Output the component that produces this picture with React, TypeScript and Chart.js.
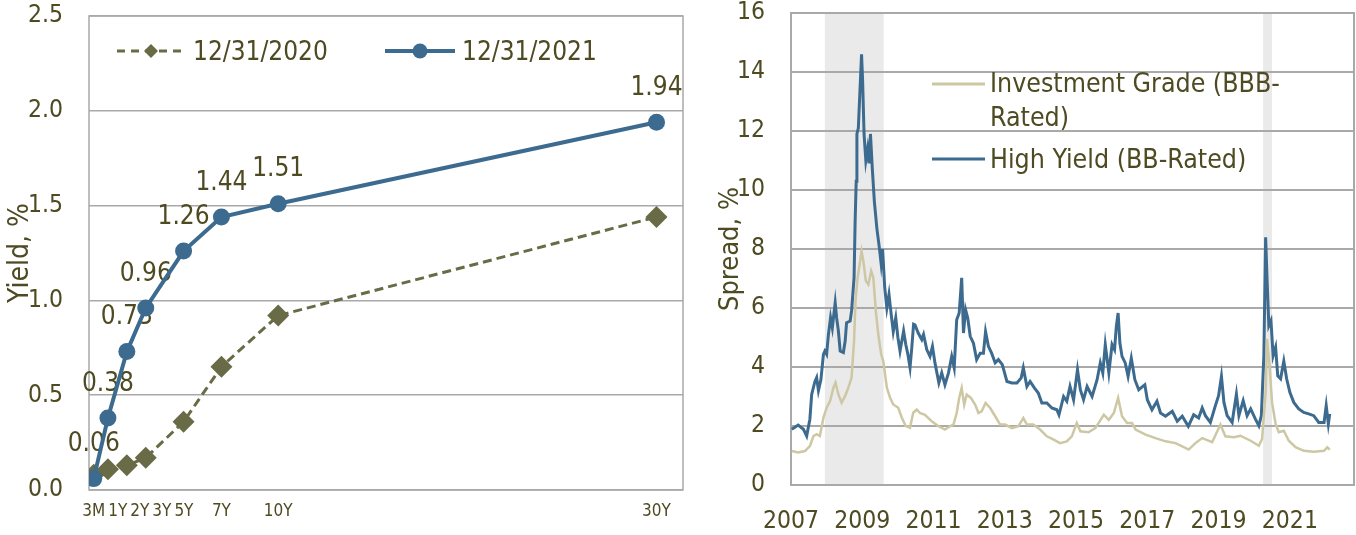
import React, { useEffect, useRef } from "react";
import { Chart, registerables } from "chart.js";

Chart.register(...registerables);

// ---------- Left chart data: Treasury yield curve ----------
const maturities = [0.25, 1, 2, 3, 5, 7, 10, 30];
const maturityLabels = ["3M", "1Y", "2Y", "3Y", "5Y", "7Y", "10Y", "30Y"];
const yield2020 = [0.08, 0.11, 0.13, 0.17, 0.36, 0.65, 0.92, 1.44];
const yield2021 = [0.06, 0.38, 0.73, 0.96, 1.26, 1.44, 1.51, 1.94];
const yieldTicks = [0, 0.5, 1.0, 1.5, 2.0, 2.5];

// ---------- Right chart data: corporate spreads ----------
const yearTicks = [2007, 2009, 2011, 2013, 2015, 2017, 2019, 2021];
const spreadTicks = [0, 2, 4, 6, 8, 10, 12, 14, 16];
const recessionStart = [2007.95, 2020.25];
const recessionEnd = [2009.6, 2020.5];

const hyYears = [
  2007.02, 2007.1, 2007.2, 2007.35, 2007.44, 2007.53, 2007.58, 2007.67, 2007.72, 2007.77,
  2007.84, 2007.91, 2007.95, 2008.0, 2008.05, 2008.11, 2008.16, 2008.24, 2008.28, 2008.33,
  2008.38, 2008.47, 2008.52, 2008.56, 2008.66, 2008.7, 2008.77, 2008.8, 2008.83, 2008.85,
  2008.89, 2008.94, 2008.98, 2009.01, 2009.05, 2009.1, 2009.15, 2009.19, 2009.23, 2009.28,
  2009.34, 2009.41, 2009.48, 2009.53, 2009.57, 2009.63, 2009.69, 2009.75, 2009.81, 2009.87,
  2009.94, 2010.0, 2010.06, 2010.16, 2010.22, 2010.28, 2010.34, 2010.39, 2010.44, 2010.48,
  2010.57, 2010.67, 2010.72, 2010.81, 2010.9, 2010.97, 2011.04, 2011.15, 2011.23, 2011.32,
  2011.42, 2011.51, 2011.58, 2011.65, 2011.72, 2011.79, 2011.84, 2011.9, 2011.96, 2012.03,
  2012.12, 2012.21, 2012.31, 2012.4, 2012.46, 2012.54, 2012.63, 2012.73, 2012.82, 2012.93,
  2013.06, 2013.2, 2013.34, 2013.46, 2013.52, 2013.62, 2013.71, 2013.83, 2013.94, 2014.04,
  2014.18, 2014.32, 2014.46, 2014.52, 2014.65, 2014.74, 2014.83, 2014.93, 2015.04, 2015.12,
  2015.21, 2015.31, 2015.45, 2015.59, 2015.68, 2015.75, 2015.82, 2015.92, 2016.01, 2016.08,
  2016.13, 2016.18, 2016.23, 2016.29, 2016.38, 2016.46, 2016.55, 2016.65, 2016.76, 2016.93,
  2017.0, 2017.13, 2017.27, 2017.37, 2017.51, 2017.7, 2017.84, 2017.98, 2018.15, 2018.3,
  2018.44, 2018.54, 2018.63, 2018.77, 2018.91, 2019.0, 2019.08, 2019.15, 2019.24, 2019.38,
  2019.5, 2019.57, 2019.69, 2019.8, 2019.9, 2020.03, 2020.13, 2020.2, 2020.27, 2020.32,
  2020.36, 2020.41, 2020.47, 2020.53, 2020.6, 2020.66, 2020.74, 2020.83, 2020.91, 2021.0,
  2021.11, 2021.25, 2021.39, 2021.53, 2021.67, 2021.81, 2021.96, 2022.02, 2022.08, 2022.12,
];
const hySpread = [
  1.89, 1.95, 2.03, 1.89, 1.66, 2.23, 3.07, 3.5, 3.64, 3.2,
  3.58, 4.43, 4.54, 4.43, 5.1, 5.67, 5.33, 6.18, 5.67, 5.22,
  4.54, 4.49, 4.88, 5.5, 5.56, 5.9, 7.03, 8.95, 10.3, 11.9,
  12.1, 13.5, 14.6, 13.7, 11.9, 11.0, 11.4, 10.9, 11.9, 10.76,
  9.6, 8.7, 8.04, 7.5, 8.0, 6.7, 6.0, 6.46, 5.8, 5.2,
  5.67, 5.0, 4.54, 5.22, 4.77, 4.43, 3.98, 4.66, 5.45, 5.43,
  5.15, 4.93, 5.1, 4.59, 4.36, 4.7, 4.14, 3.46, 3.8, 3.4,
  3.8, 4.36, 3.97, 5.6, 5.83, 7.02, 5.15, 5.94, 5.66, 5.04,
  4.81, 4.25, 4.47, 4.47, 5.2, 4.7, 4.47, 4.14, 4.25, 4.08,
  3.51, 3.46, 3.46, 3.63, 3.97, 3.34, 3.51, 3.29, 3.12, 2.78,
  2.78, 2.61, 2.55, 2.38, 3.0, 2.84, 3.34, 2.89, 3.91, 3.23,
  2.89, 3.34, 3.0, 3.57, 4.14, 3.8, 4.76, 3.8, 4.76, 4.59,
  5.38, 5.83, 4.81, 4.36, 4.14, 3.68, 4.3, 3.57, 3.23, 3.4,
  2.89, 2.55, 2.84, 2.44, 2.33, 2.5, 2.16, 2.33, 1.99, 2.38,
  2.27, 2.61, 2.35, 2.12, 2.69, 3.03, 3.68, 2.8, 2.35, 2.12,
  3.08, 2.35, 2.86, 2.35, 2.58, 2.24, 2.01, 2.35, 4.38, 8.4,
  6.98, 5.4, 5.57, 4.38, 4.67, 3.7, 3.6, 4.2, 3.6, 3.14,
  2.8, 2.58, 2.46, 2.41, 2.35, 2.12, 2.12, 2.69, 2.07, 2.41,
];

const igYears = [
  2007.02, 2007.2, 2007.39, 2007.53, 2007.63, 2007.72, 2007.81, 2007.91, 2008.0, 2008.1,
  2008.19, 2008.25, 2008.33, 2008.42, 2008.52, 2008.61, 2008.7, 2008.77, 2008.81, 2008.87,
  2008.94, 2008.98, 2009.03, 2009.1, 2009.17, 2009.25, 2009.31, 2009.38, 2009.45, 2009.53,
  2009.59, 2009.69, 2009.78, 2009.87, 2010.01, 2010.11, 2010.22, 2010.34, 2010.43, 2010.53,
  2010.62, 2010.76, 2010.95, 2011.14, 2011.32, 2011.46, 2011.56, 2011.65, 2011.72, 2011.79,
  2011.86, 2011.93, 2012.05, 2012.17, 2012.26, 2012.35, 2012.46, 2012.59, 2012.73, 2012.87,
  2013.01, 2013.2, 2013.38, 2013.52, 2013.62, 2013.8, 2013.99, 2014.18, 2014.37, 2014.55,
  2014.74, 2014.88, 2015.02, 2015.12, 2015.35, 2015.54, 2015.78, 2015.92, 2016.06, 2016.18,
  2016.29, 2016.43, 2016.57, 2016.67, 2016.95, 2017.23, 2017.51, 2017.79, 2017.98, 2018.16,
  2018.35, 2018.54, 2018.82, 2019.05, 2019.19, 2019.43, 2019.61, 2019.9, 2020.13, 2020.22,
  2020.32, 2020.36, 2020.43, 2020.5, 2020.6, 2020.69, 2020.83, 2020.97, 2021.16, 2021.39,
  2021.67, 2021.96, 2022.05, 2022.12,
];
const igSpread = [
  1.15, 1.1, 1.15, 1.32, 1.66, 1.72, 1.66, 2.28, 2.62, 2.85,
  3.3, 3.47, 3.07, 2.79, 3.02, 3.3, 3.64, 4.88, 6.24, 7.03,
  7.59, 7.93, 7.59, 6.92, 6.8, 7.25, 7.03, 5.9, 5.1, 4.43,
  4.2, 3.3, 2.96, 2.73, 2.62, 2.28, 2.0, 1.94, 2.45, 2.56,
  2.44, 2.38, 2.16, 1.99, 1.88, 1.99, 2.05, 2.44, 2.95, 3.29,
  2.72, 3.06, 2.95, 2.72, 2.44, 2.5, 2.78, 2.61, 2.33, 2.05,
  2.05, 1.93, 1.99, 2.27, 2.05, 2.05, 1.88, 1.65, 1.54, 1.42,
  1.48, 1.65, 2.1, 1.82, 1.79, 1.93, 2.38, 2.21, 2.44, 2.95,
  2.33, 2.1, 2.1, 1.88, 1.71, 1.59, 1.48, 1.42, 1.31, 1.2,
  1.42, 1.59, 1.45, 2.05, 1.65, 1.62, 1.67, 1.5, 1.33, 1.56,
  3.14, 4.95, 4.05, 2.8, 2.07, 1.79, 1.84, 1.5, 1.28, 1.16,
  1.13, 1.16, 1.28, 1.2,
];

// ---------- Styles ----------
const FONT = "'DejaVu Sans Condensed', 'Liberation Sans', sans-serif";
const TEXT = "#4E4A22";
const GRID = "#A9A9A9";
const BLUE = "#3D6B8F";
const OLIVE = "#686B45";
const TAN = "#CDC7A3";
const SHADE = "#EAEAEA";

const framePlugin = (lw: number) => ({
  id: "frame",
  beforeDatasetsDraw(chart: any) {
    const { ctx, chartArea: a } = chart;
    ctx.save();
    ctx.strokeStyle = GRID;
    ctx.lineWidth = lw;
    ctx.strokeRect(a.left, a.top, a.right - a.left, a.bottom - a.top);
    ctx.restore();
  },
});

const valueLabelPlugin = {
  id: "valueLabels",
  beforeDatasetsDraw(chart: any) {
    const meta = chart.getDatasetMeta(0);
    const ctx = chart.ctx;
    ctx.save();
    ctx.font = `26px ${FONT}`;
    ctx.fillStyle = TEXT;
    ctx.textAlign = "center";
    ctx.textBaseline = "middle";
    meta.data.forEach((pt: any, i: number) => {
      ctx.fillText(yield2021[i].toFixed(2), pt.x, pt.y - 34);
    });
    ctx.restore();
  },
};

// maturity labels placed at their scale positions, nudged right where they would overlap
const maturityLabelPlugin = {
  id: "maturityLabels",
  afterDraw(chart: any) {
    const { ctx, chartArea: a, scales } = chart;
    ctx.save();
    ctx.font = `17px ${FONT}`;
    ctx.fillStyle = TEXT;
    ctx.textAlign = "left";
    ctx.textBaseline = "middle";
    let prevEnd = -Infinity;
    maturities.forEach((m, i) => {
      const w = ctx.measureText(maturityLabels[i]).width;
      const cx = scales.x.getPixelForValue(m);
      const start = Math.max(cx - w / 2, prevEnd + 3);
      ctx.fillText(maturityLabels[i], start, a.bottom + 22);
      prevEnd = start + w;
    });
    ctx.restore();
  },
};

const recessionPlugin = {
  id: "recessions",
  beforeDraw(chart: any) {
    const { ctx, chartArea: a, scales } = chart;
    ctx.save();
    ctx.fillStyle = SHADE;
    recessionStart.forEach((s, i) => {
      const x0 = scales.x.getPixelForValue(s);
      const x1 = scales.x.getPixelForValue(recessionEnd[i]);
      ctx.fillRect(x0, a.top, x1 - x0, a.bottom - a.top);
    });
    ctx.restore();
  },
};

function makeLeft(canvas: HTMLCanvasElement) {
  return new Chart(canvas, {
    type: "line",
    data: {
      datasets: [
        {
          label: "12/31/2021",
          data: maturities.map((m, i) => ({ x: m, y: yield2021[i] })),
          borderColor: BLUE,
          backgroundColor: BLUE,
          borderWidth: 4,
          pointStyle: "circle",
          pointRadius: 8.5,
          pointBorderWidth: 0,
          order: 0,
        },
        {
          label: "12/31/2020",
          data: maturities.map((m, i) => ({ x: m, y: yield2020[i] })),
          borderColor: OLIVE,
          backgroundColor: OLIVE,
          borderWidth: 3,
          borderDash: [9, 5],
          pointStyle: "rectRot",
          pointRadius: 11,
          pointBorderWidth: 0,
          order: 1,
        },
      ],
    } as any,
    options: {
      animation: false,
      responsive: false,
      maintainAspectRatio: false,
      layout: { padding: { left: 0, top: 16, right: 17, bottom: 0 } },
      plugins: { legend: { display: false }, tooltip: { enabled: false } },
      scales: {
        x: {
          type: "linear",
          min: 0,
          max: 31.4,
          afterBuildTicks: (s: any) => {
            s.ticks = maturities.map((v) => ({ value: v }));
          },
          afterFit: (s: any) => {
            s.height = 45;
            s.paddingLeft = 0;
            s.paddingRight = 0;
          },
          grid: { display: false, drawTicks: false },
          border: { display: false },
          ticks: { display: false },
        },
        y: {
          type: "linear",
          min: 0,
          max: 2.5,
          afterBuildTicks: (s: any) => {
            s.ticks = yieldTicks.map((v) => ({ value: v }));
          },
          afterFit: (s: any) => {
            s.width = 89;
            s.paddingTop = 0;
            s.paddingBottom = 0;
          },
          grid: { color: GRID, lineWidth: 1.5, drawTicks: false },
          border: { display: false },
          ticks: {
            padding: 26,
            color: TEXT,
            font: { size: 24.5, family: FONT, lineHeight: 1 },
            callback: (v: any) => Number(v).toFixed(1),
          },
          title: {
            display: true,
            text: "Yield, %",
            color: TEXT,
            font: { size: 28, family: FONT, lineHeight: 1.2 },
            padding: { top: 4, bottom: 0 },
          },
        },
      },
    } as any,
    plugins: [framePlugin(1.5), valueLabelPlugin, maturityLabelPlugin],
  });
}

function makeRight(canvas: HTMLCanvasElement) {
  return new Chart(canvas, {
    type: "line",
    data: {
      datasets: [
        {
          label: "Investment Grade (BBB-Rated)",
          data: igYears.map((x, i) => ({ x, y: igSpread[i] })),
          borderColor: TAN,
          borderWidth: 2.5,
          pointRadius: 0,
          order: 0,
        },
        {
          label: "High Yield (BB-Rated)",
          data: hyYears.map((x, i) => ({ x, y: hySpread[i] })),
          borderColor: BLUE,
          borderWidth: 3,
          pointRadius: 0,
          order: 1,
        },
      ],
    } as any,
    options: {
      animation: false,
      responsive: false,
      maintainAspectRatio: false,
      layout: { padding: { left: 0, top: 13, right: 2, bottom: 0 } },
      plugins: { legend: { display: false }, tooltip: { enabled: false } },
      scales: {
        x: {
          type: "linear",
          min: 2007,
          max: 2022.8,
          afterBuildTicks: (s: any) => {
            s.ticks = yearTicks.map((v) => ({ value: v }));
          },
          afterFit: (s: any) => {
            s.height = 50;
            s.paddingLeft = 0;
            s.paddingRight = 0;
          },
          grid: { display: false, drawTicks: false },
          border: { display: false },
          ticks: {
            autoSkip: false,
            maxRotation: 0,
            minRotation: 0,
            padding: 22,
            color: TEXT,
            font: { size: 24.5, family: FONT, lineHeight: 1.2 },
            callback: (v: any) => String(v),
          },
        },
        y: {
          type: "linear",
          min: 0,
          max: 16,
          afterBuildTicks: (s: any) => {
            s.ticks = spreadTicks.map((v) => ({ value: v }));
          },
          afterFit: (s: any) => {
            s.width = 91;
            s.paddingTop = 0;
            s.paddingBottom = 0;
          },
          grid: { color: GRID, lineWidth: 2, drawTicks: false },
          border: { display: false },
          ticks: {
            padding: 26,
            color: TEXT,
            font: { size: 24.5, family: FONT, lineHeight: 1 },
            callback: (v: any) => String(v),
          },
          title: {
            display: true,
            text: "Spread, %",
            color: TEXT,
            font: { size: 27, family: FONT, lineHeight: 1.2 },
            padding: { top: 15, bottom: 0 },
          },
        },
      },
    } as any,
    plugins: [recessionPlugin, framePlugin(2)],
  });
}

const legendText: React.CSSProperties = {
  position: "absolute",
  fontFamily: FONT,
  fontSize: 26,
  lineHeight: "34px",
  color: TEXT,
  whiteSpace: "pre",
};

export default function App() {
  const leftRef = useRef<HTMLCanvasElement>(null);
  const rightRef = useRef<HTMLCanvasElement>(null);

  useEffect(() => {
    const c1 = makeLeft(leftRef.current!);
    const c2 = makeRight(rightRef.current!);
    return () => {
      c1.destroy();
      c2.destroy();
    };
  }, []);

  return (
    <div style={{ position: "absolute", left: 0, top: 0, width: 1356, height: 535, background: "#fff", overflow: "hidden" }}>
      <canvas ref={leftRef} width={700} height={535} style={{ position: "absolute", left: 0, top: 0 }} />
      <canvas ref={rightRef} width={656} height={535} style={{ position: "absolute", left: 700, top: 0 }} />

      {/* Left legend */}
      <svg style={{ position: "absolute", left: 110, top: 39 }} width={84} height={24}>
        <line x1={7} y1={12} x2={77} y2={12} stroke={OLIVE} strokeWidth={3} strokeDasharray="8 6" />
        <polygon points="41,5 48,12 41,19 34,12" fill={OLIVE} />
      </svg>
      <div style={{ ...legendText, left: 193, top: 34 }}>12/31/2020</div>
      <svg style={{ position: "absolute", left: 380, top: 39 }} width={80} height={24}>
        <line x1={5} y1={12} x2={75} y2={12} stroke={BLUE} strokeWidth={4} />
        <circle cx={40} cy={12} r={7.5} fill={BLUE} />
      </svg>
      <div style={{ ...legendText, left: 462, top: 34 }}>12/31/2021</div>

      {/* Right legend */}
      <svg style={{ position: "absolute", left: 930, top: 74 }} width={60} height={20}>
        <line x1={2} y1={10} x2={55} y2={10} stroke={TAN} strokeWidth={3} />
      </svg>
      <div style={{ ...legendText, fontSize: 26.5, left: 990, top: 66 }}>{"Investment Grade (BBB-\nRated)"}</div>
      <svg style={{ position: "absolute", left: 930, top: 149 }} width={60} height={20}>
        <line x1={2} y1={10} x2={55} y2={10} stroke={BLUE} strokeWidth={3} />
      </svg>
      <div style={{ ...legendText, fontSize: 26.5, left: 990, top: 142 }}>High Yield (BB-Rated)</div>
    </div>
  );
}
